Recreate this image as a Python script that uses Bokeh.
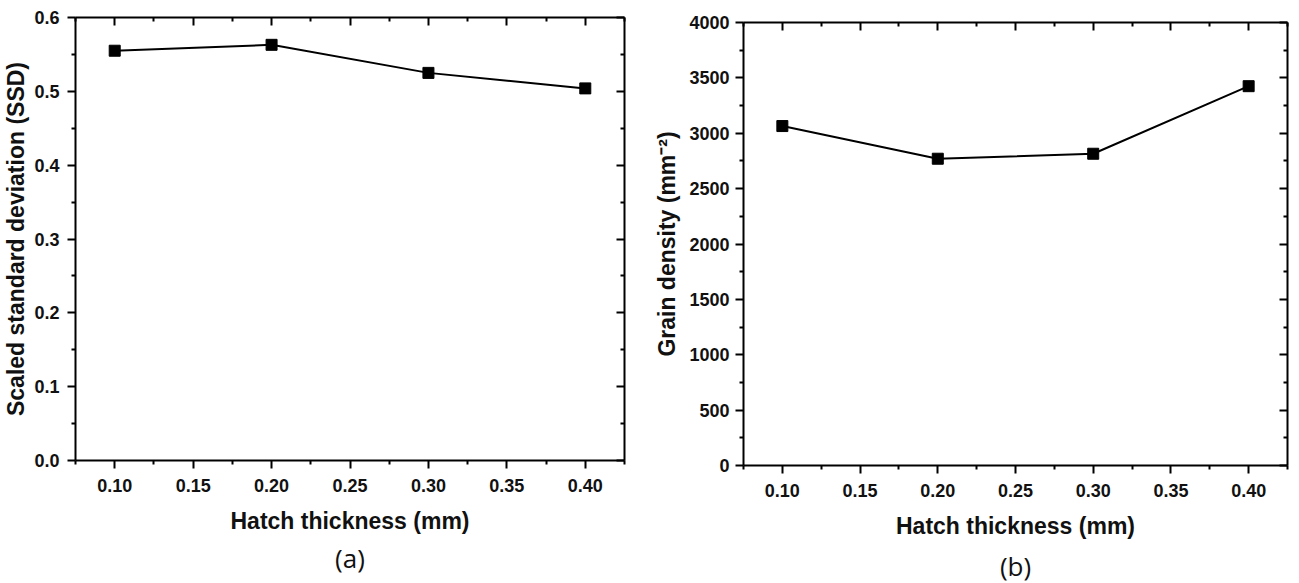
from bokeh.plotting import figure
from bokeh.layouts import row, column
from bokeh.models import (LinearAxis, FixedTicker, NumeralTickFormatter, Range1d, Title,
                          CustomJSTickFormatter)
from bokeh.embed import file_html
from bokeh.resources import INLINE

# data
hatch = [0.10, 0.20, 0.30, 0.40]
ssd = [0.555, 0.563, 0.525, 0.504]
grain = [3065, 2770, 2815, 3425]

# tick positions
x_major = [0.10, 0.15, 0.20, 0.25, 0.30, 0.35, 0.40]
x_minor = [0.075, 0.125, 0.175, 0.225, 0.275, 0.325, 0.375, 0.425]
ssd_major = [0.0, 0.1, 0.2, 0.3, 0.4, 0.5, 0.6]
ssd_minor = [0.05, 0.15, 0.25, 0.35, 0.45, 0.55]
gd_major = [0, 500, 1000, 1500, 2000, 2500, 3000, 3500, 4000]
gd_minor = [250, 750, 1250, 1750, 2250, 2750, 3250, 3750]

FONT = "Liberation Sans"


def style_axis(ax, major, minor, fmt, outward=True, labels=True):
    ax.ticker = FixedTicker(ticks=major, minor_ticks=minor)
    ax.axis_line_width = 2
    ax.axis_line_color = "black"
    ax.major_tick_line_width = 2
    ax.minor_tick_line_width = 2
    ax.major_tick_line_color = "black"
    ax.minor_tick_line_color = "black"
    if outward:
        ax.major_tick_out, ax.major_tick_in = 8, 0
        ax.minor_tick_out, ax.minor_tick_in = 4, 0
    else:
        ax.major_tick_out, ax.major_tick_in = 0, 8
        ax.minor_tick_out, ax.minor_tick_in = 0, 4
    ax.major_label_text_font = FONT
    ax.major_label_text_font_style = "bold"
    ax.major_label_text_font_size = "18px"
    ax.major_label_text_color = "#111111"
    ax.axis_label_text_font = FONT
    ax.axis_label_text_font_style = "bold"
    ax.axis_label_text_font_size = "23px"
    ax.axis_label_text_color = "#111111"
    if labels:
        ax.formatter = NumeralTickFormatter(format=fmt)
    else:
        ax.formatter = CustomJSTickFormatter(code="return ''")
        ax.major_label_text_font_size = "1px"
        ax.major_label_standoff = 0
        ax.axis_label_standoff = 0
        ax.axis_label = None


def make_panel(yvals, yend, ymaj, ymin, yfmt, ylabel, tag, fw, borders,
               ystand, ylabstand, tagstand):
    p = figure(frame_width=fw, frame_height=443, output_backend="svg", toolbar_location=None,
               x_range=Range1d(0.075, 0.425), y_range=Range1d(0, yend),
               x_axis_location=None, y_axis_location=None)
    p.min_border_left, p.min_border_right, p.min_border_top, p.min_border_bottom = borders
    p.xgrid.grid_line_color = None
    p.ygrid.grid_line_color = None
    p.outline_line_color = None
    p.background_fill_color = "white"
    p.border_fill_color = "white"

    xb = LinearAxis(axis_label="Hatch thickness (mm)")
    style_axis(xb, x_major, x_minor, "0.00")
    xb.major_label_standoff = 10
    xb.axis_label_standoff = 13
    p.add_layout(xb, "below")
    yl = LinearAxis(axis_label=ylabel)
    style_axis(yl, ymaj, ymin, yfmt)
    yl.major_label_standoff = ystand
    yl.axis_label_standoff = ylabstand
    p.add_layout(yl, "left")
    xt = LinearAxis()
    style_axis(xt, x_major, x_minor, "0.00", outward=False, labels=False)
    p.add_layout(xt, "above")
    yr = LinearAxis()
    style_axis(yr, ymaj, ymin, yfmt, outward=False, labels=False)
    p.add_layout(yr, "right")

    t = Title(text=tag, align="center", text_font="Open Sans", text_font_size="26px",
              text_font_style="normal", text_color="#111111", standoff=tagstand)
    p.add_layout(t, "below")

    p.line(hatch, yvals, line_color="black", line_width=2)
    p.scatter(hatch, yvals, marker="square", size=11, fill_color="black", line_color="black")
    return p


p1 = make_panel(ssd, 0.6, ssd_major, ssd_minor, "0.0", "Scaled standard deviation (SSD)", "(a)",
                549, (74, 27, 17, 108), 8, 2, 3)
p2 = make_panel(grain, 4000, gd_major, gd_minor, "0", "Grain density (mm⁻²)", "(b)",
                544, (87, 2, 22, 104), 6, 6, 8)

layout = row(column(p1), column(p2))
open("out.html", "w").write(file_html(layout, INLINE))
